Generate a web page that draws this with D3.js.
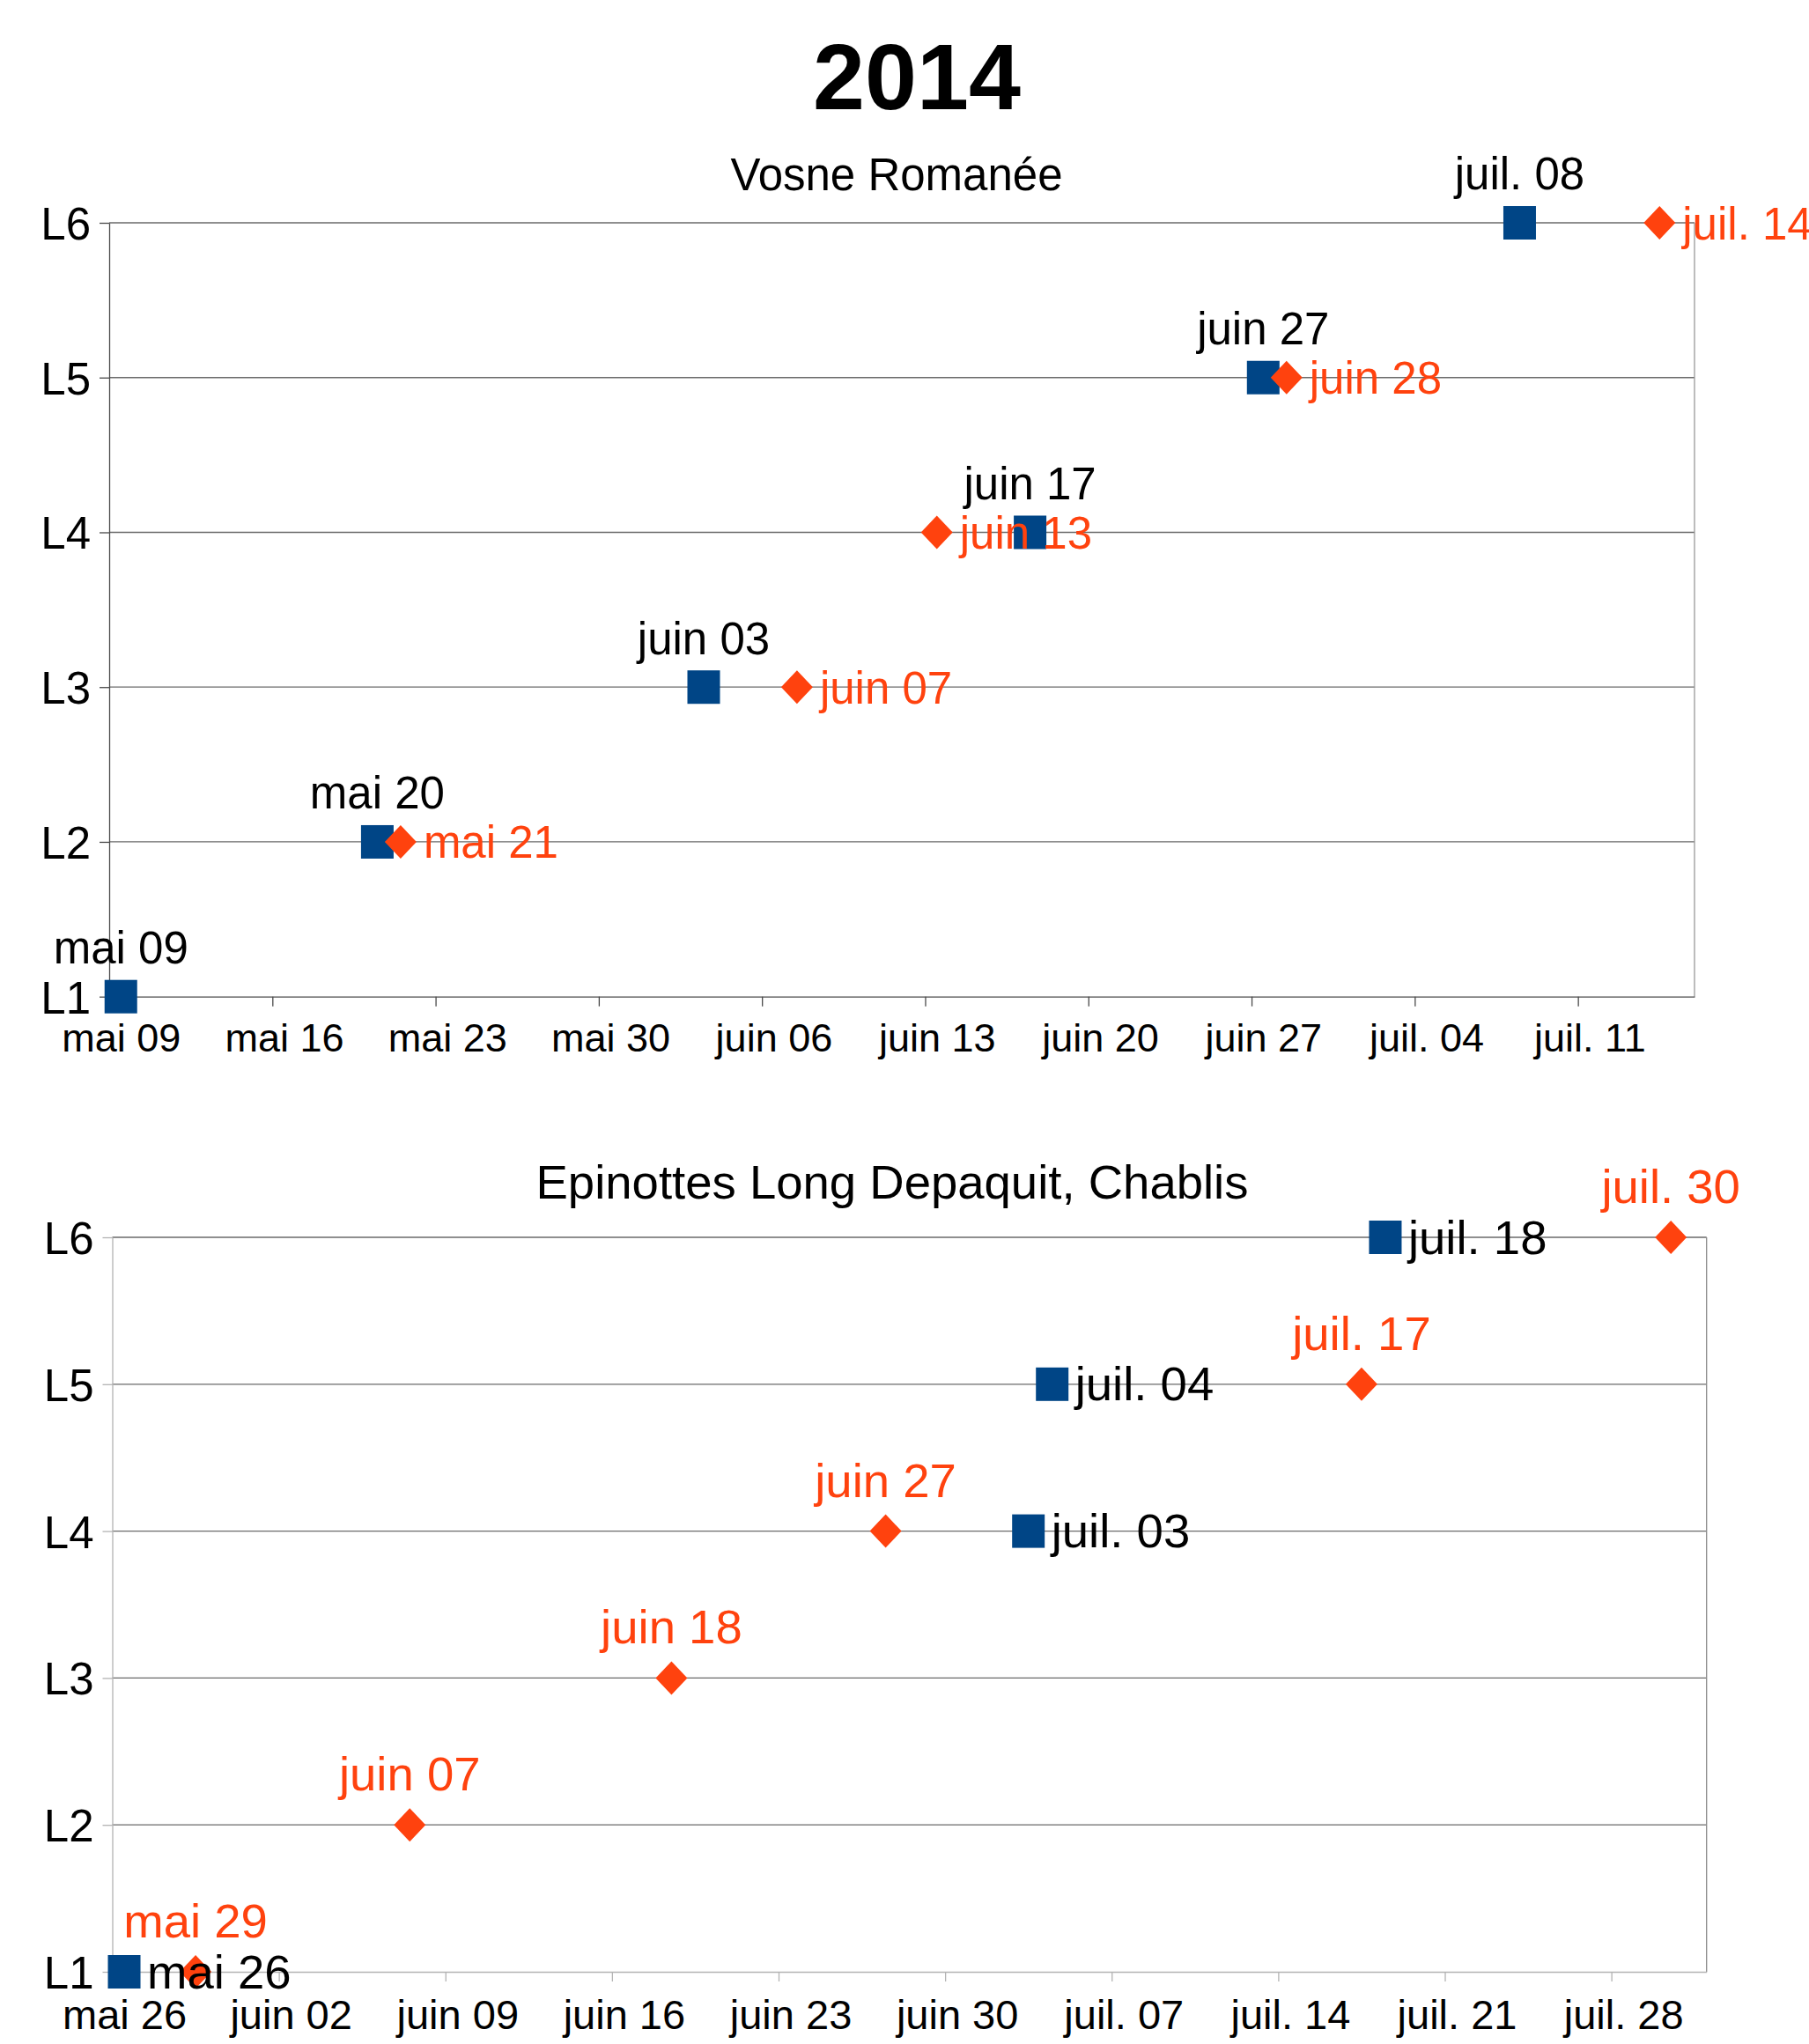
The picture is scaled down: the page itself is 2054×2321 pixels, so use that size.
<!DOCTYPE html>
<html>
<head>
<meta charset="utf-8">
<script src="https://cdn.jsdelivr.net/npm/d3@7"></script>
<style>
  html, body { margin: 0; padding: 0; background: #fff; }
  svg { display: block; font-family: "Liberation Sans", Arial, sans-serif; }
</style>
</head>
<body>
<svg id="chart" width="2054" height="2321"></svg>
<script>
// ---------- DATA ----------
const mainTitle = "2014";
const levelLabels = ["L1", "L2", "L3", "L4", "L5", "L6"];

// Chart 1: Vosne Romanée
const vosneTitle = "Vosne Romanée";
const vosneBlueDates   = ["2014-05-09", "2014-05-20", "2014-06-03", "2014-06-17", "2014-06-27", "2014-07-08"];
const vosneBlueLevels  = [1, 2, 3, 4, 5, 6];
const vosneOrangeDates  = ["2014-05-21", "2014-06-07", "2014-06-13", "2014-06-28", "2014-07-14"];
const vosneOrangeLevels = [2, 3, 4, 5, 6];
const vosneAxisRange = ["2014-05-09", "2014-07-16"];
const vosneTickDates = ["2014-05-09", "2014-05-16", "2014-05-23", "2014-05-30", "2014-06-06", "2014-06-13", "2014-06-20", "2014-06-27", "2014-07-04", "2014-07-11"];

// Chart 2: Epinottes Long Depaquit, Chablis
const chablisTitle = "Epinottes Long Depaquit, Chablis";
const chablisBlueDates   = ["2014-05-26", "2014-07-03", "2014-07-04", "2014-07-18"];
const chablisBlueLevels  = [1, 4, 5, 6];
const chablisOrangeDates  = ["2014-05-29", "2014-06-07", "2014-06-18", "2014-06-27", "2014-07-17", "2014-07-30"];
const chablisOrangeLevels = [1, 2, 3, 4, 5, 6];
const chablisAxisRange = ["2014-05-26", "2014-08-01"];
const chablisTickDates = ["2014-05-26", "2014-06-02", "2014-06-09", "2014-06-16", "2014-06-23", "2014-06-30", "2014-07-07", "2014-07-14", "2014-07-21", "2014-07-28"];

// ---------- SETUP ----------
const BLUE = "#004586", ORANGE = "#ff420e";
const parse = d3.utcParse("%Y-%m-%d");
const fr = d3.timeFormatLocale({
  dateTime: "%A %e %B %Y à %X", date: "%d/%m/%Y", time: "%H:%M:%S",
  periods: ["AM", "PM"],
  days: ["dimanche","lundi","mardi","mercredi","jeudi","vendredi","samedi"],
  shortDays: ["dim.","lun.","mar.","mer.","jeu.","ven.","sam."],
  months: ["janvier","février","mars","avril","mai","juin","juillet","août","septembre","octobre","novembre","décembre"],
  shortMonths: ["janv.","févr.","mars","avr.","mai","juin","juil.","août","sept.","oct.","nov.","déc."]
});
const fmt = fr.utcFormat("%b %d");
const noon = d => d3.utcHour.offset(d, 12);

const svg = d3.select("#chart");

svg.append("text")
  .attr("x", 1041).attr("y", 124)
  .attr("text-anchor", "middle")
  .attr("font-size", 106).attr("font-weight", "bold")
  .attr("fill", "#000")
  .text(mainTitle);

function drawChart(cfg) {
  const x = d3.scaleUtc()
    .domain(cfg.range.map(parse))
    .range([cfg.left, cfg.right]);
  const y = d3.scaleLinear().domain([1, 6]).range([cfg.bottom, cfg.top]);
  const g = svg.append("g");

  // subtitle
  g.append("text")
    .attr("x", cfg.titleX).attr("y", cfg.titleY)
    .attr("text-anchor", "middle")
    .attr("font-size", cfg.titleFont).attr("fill", "#000")
    .text(cfg.title);

  // gridlines (L2..L6)
  g.append("g").selectAll("line")
    .data([2, 3, 4, 5, 6]).join("line")
    .attr("x1", cfg.left).attr("x2", cfg.right)
    .attr("y1", d => y(d)).attr("y2", d => y(d))
    .attr("stroke", cfg.gridColor).attr("stroke-width", 1.3);

  // right border
  g.append("line")
    .attr("x1", cfg.right).attr("x2", cfg.right)
    .attr("y1", cfg.top).attr("y2", cfg.bottom)
    .attr("stroke", cfg.borderColor).attr("stroke-width", 1.3);

  // Y axis
  const yAxis = d3.axisLeft(y)
    .tickValues([1, 2, 3, 4, 5, 6])
    .tickFormat((d, i) => levelLabels[i])
    .tickSize(11).tickPadding(10).tickSizeOuter(0);
  const ya = g.append("g").attr("transform", `translate(${cfg.left},0)`).call(yAxis);
  ya.select(".domain").attr("stroke", cfg.axisColor).attr("stroke-width", 1.3);
  ya.selectAll(".tick line").attr("stroke", cfg.axisColor).attr("stroke-width", 1.3);
  ya.selectAll(".tick text")
    .attr("font-family", "Liberation Sans, Arial, sans-serif")
    .attr("font-size", 51).attr("fill", "#000")
    .attr("dy", null).attr("y", 18.5);

  // X axis
  const tickDates = cfg.ticks.map(parse);
  const halfDay = x(noon(tickDates[0])) - x(tickDates[0]);
  const xAxis = d3.axisBottom(x)
    .tickValues(tickDates)
    .tickFormat(fmt)
    .tickSize(11).tickSizeOuter(0);
  const xa = g.append("g").attr("transform", `translate(0,${cfg.bottom})`).call(xAxis);
  xa.select(".domain").attr("stroke", cfg.axisColor).attr("stroke-width", 1.3);
  xa.selectAll(".tick line").attr("stroke", cfg.axisColor).attr("stroke-width", 1.3);
  xa.selectAll(".tick text")
    .attr("font-family", "Liberation Sans, Arial, sans-serif")
    .attr("font-size", cfg.tickFont).attr("fill", "#000")
    .attr("dy", null).attr("y", cfg.tickBase).attr("x", halfDay);

  const blue = cfg.blueDates.map((d, i) => ({ date: parse(d), level: cfg.blueLevels[i] }));
  const orange = cfg.orangeDates.map((d, i) => ({ date: parse(d), level: cfg.orangeLevels[i] }));
  const px = d => x(noon(d.date));
  const py = d => y(d.level);

  // markers
  const S = 37;
  g.append("g").selectAll("rect").data(blue).join("rect")
    .attr("x", d => px(d) - S / 2).attr("y", d => py(d) - 19)
    .attr("width", S).attr("height", 38)
    .attr("fill", BLUE);
  g.append("g").selectAll("path").data(orange).join("path")
    .attr("d", d => {
      const cx = px(d), cy = py(d);
      return `M${cx},${cy - 19}L${cx + 18},${cy}L${cx},${cy + 19}L${cx - 18},${cy}Z`;
    })
    .attr("fill", ORANGE);

  // labels
  function labels(data, color, pos) {
    g.append("g").selectAll("text").data(data).join("text")
      .attr("x", d => pos === "above" ? px(d) : px(d) + 26)
      .attr("y", d => pos === "above" ? py(d) - cfg.aboveOff : py(d) + 18.5)
      .attr("text-anchor", pos === "above" ? "middle" : "start")
      .attr("font-size", cfg.labelFont).attr("fill", color)
      .text(d => fmt(d.date));
  }
  labels(blue, "#000", cfg.bluePos);
  labels(orange, ORANGE, cfg.orangePos);
}

drawChart({
  title: vosneTitle, titleX: 1018, titleY: 216, titleFont: 51,
  range: vosneAxisRange, ticks: vosneTickDates,
  left: 124, right: 1924, top: 253, bottom: 1131.7,
  blueDates: vosneBlueDates, blueLevels: vosneBlueLevels,
  orangeDates: vosneOrangeDates, orangeLevels: vosneOrangeLevels,
  bluePos: "above", orangePos: "right", aboveOff: 37.6, labelFont: 51,
  gridColor: "#6a6a6a", axisColor: "#4a4a4a", borderColor: "#9a9a9a",
  tickFont: 45, tickBase: 62
});

drawChart({
  title: chablisTitle, titleX: 1013, titleY: 1361, titleFont: 54.5,
  range: chablisAxisRange, ticks: chablisTickDates,
  left: 127.5, right: 1937.7, top: 1405, bottom: 2239,
  blueDates: chablisBlueDates, blueLevels: chablisBlueLevels,
  orangeDates: chablisOrangeDates, orangeLevels: chablisOrangeLevels,
  bluePos: "right", orangePos: "above", aboveOff: 39, labelFont: 54.5,
  gridColor: "#6a6a6a", axisColor: "#b3b3b3", borderColor: "#8a8a8a",
  tickFont: 47, tickBase: 65
});
</script>
</body>
</html>
